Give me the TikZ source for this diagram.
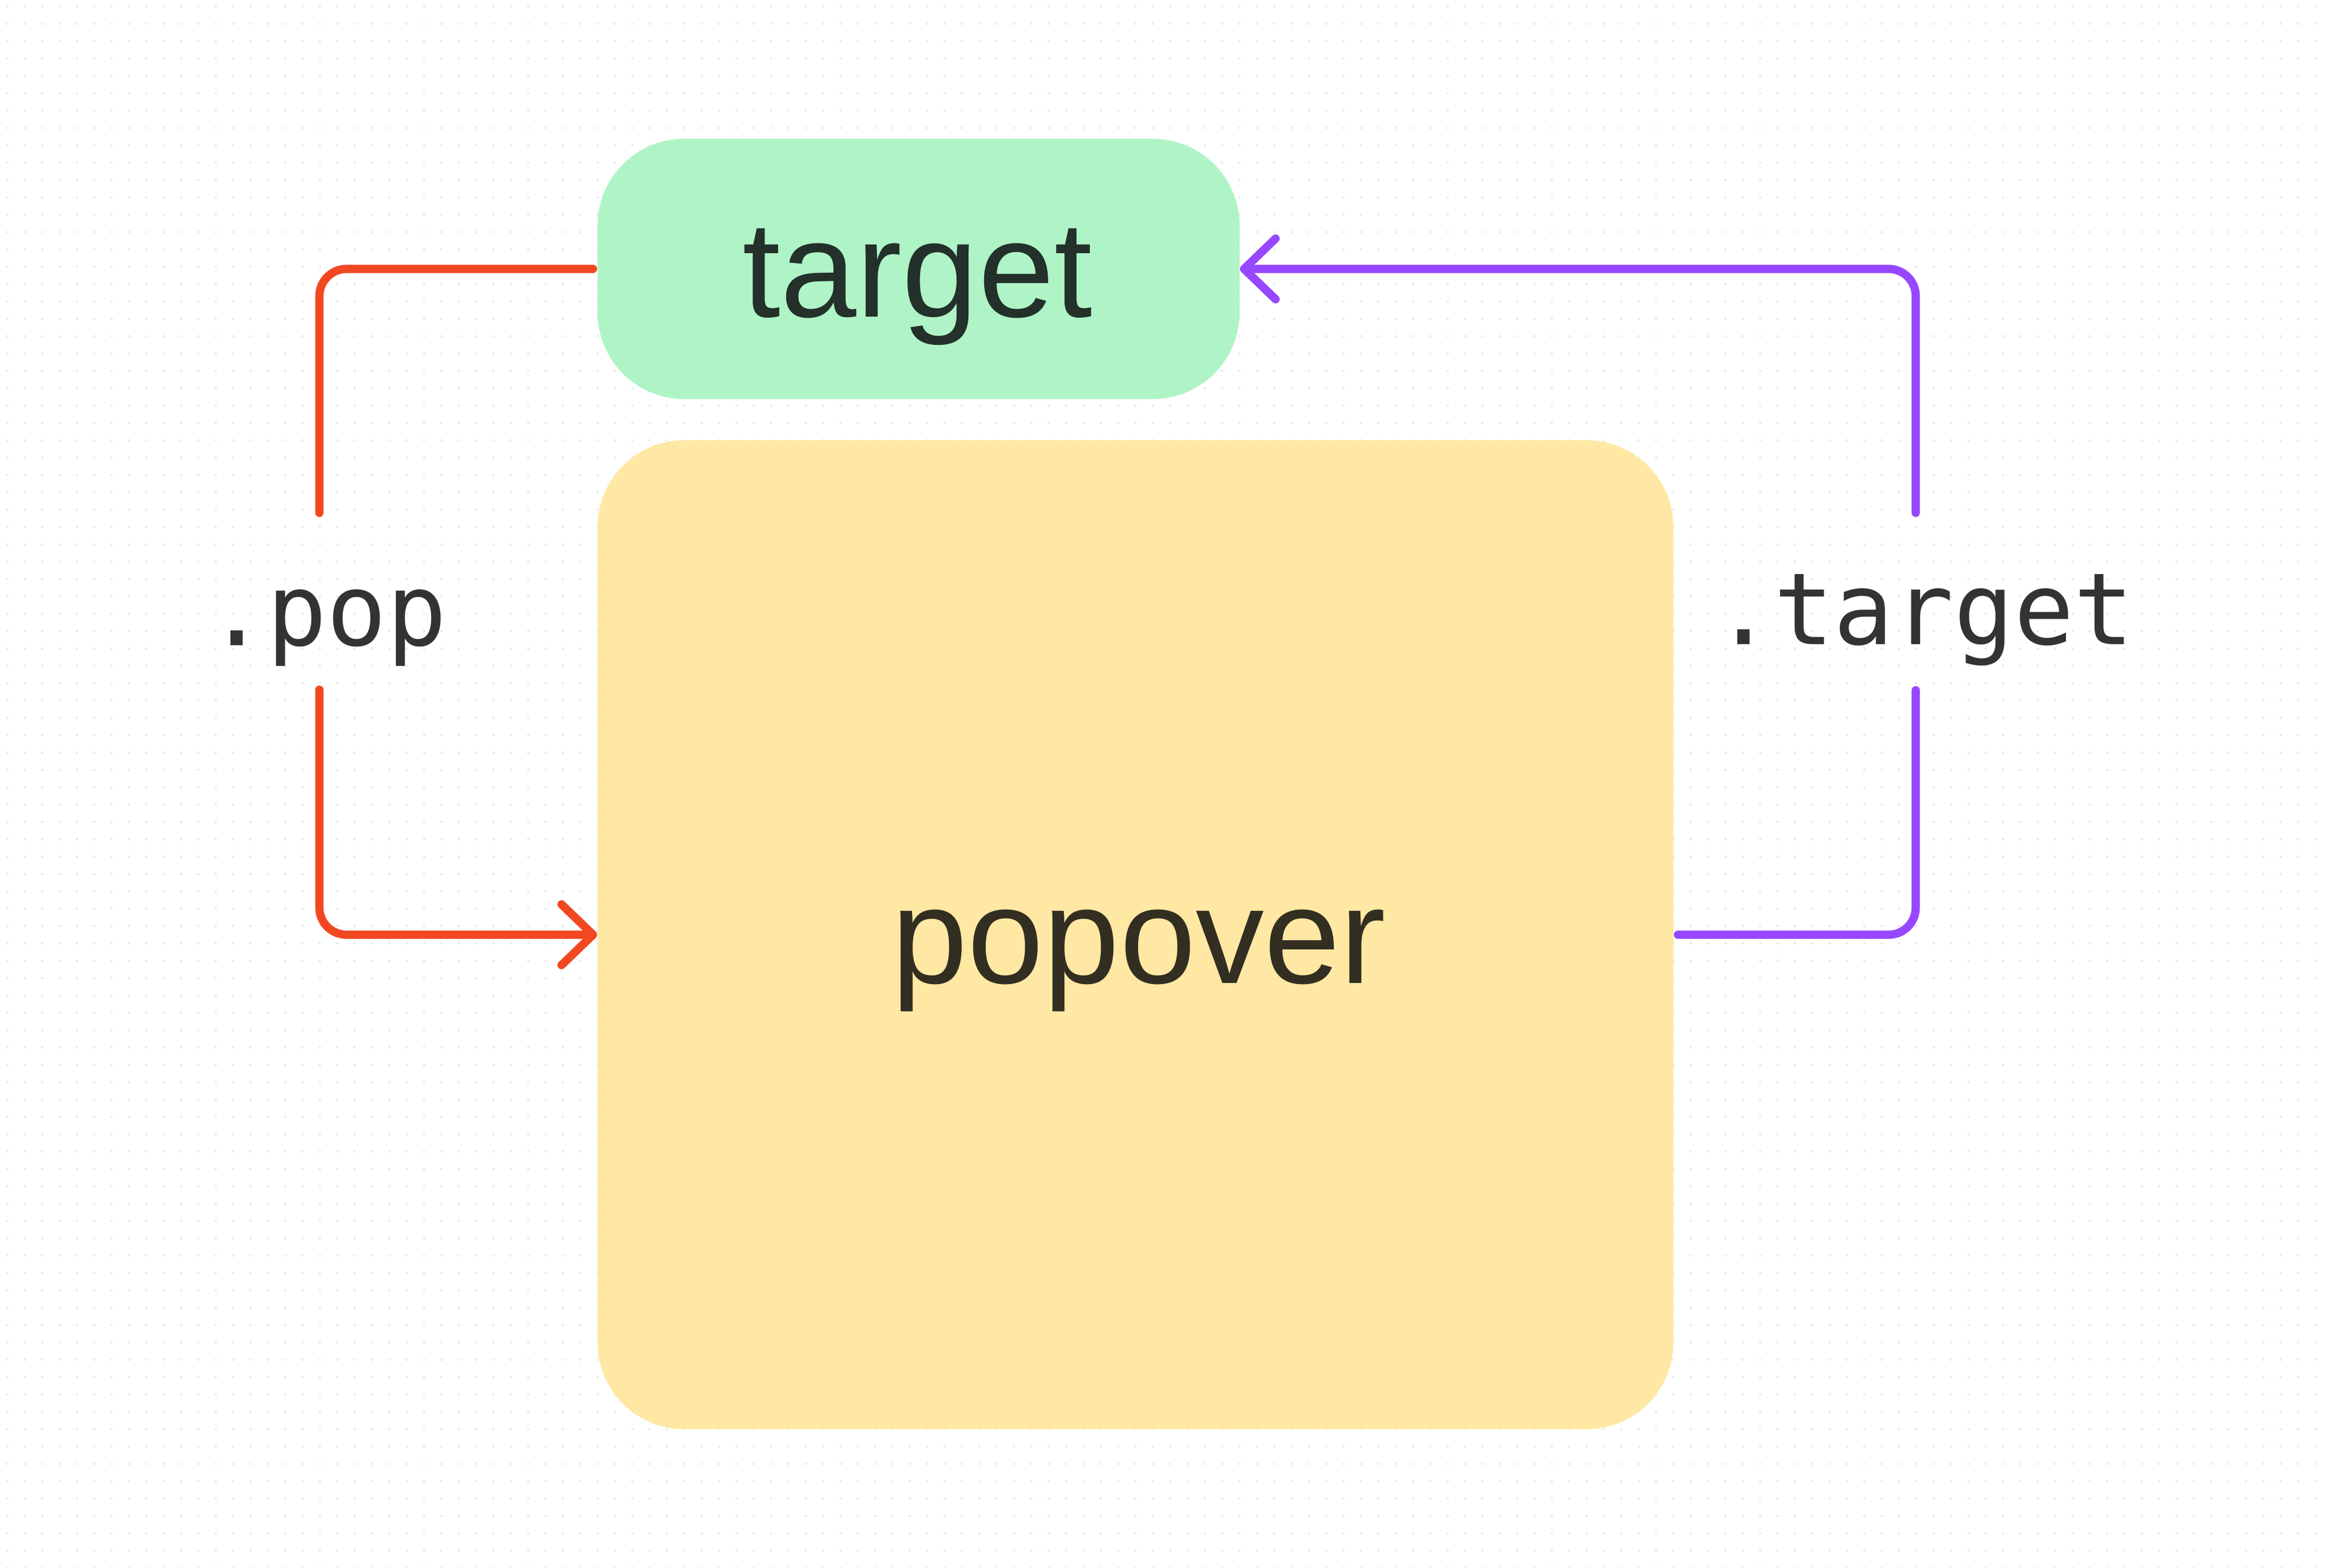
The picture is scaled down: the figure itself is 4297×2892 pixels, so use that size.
\documentclass[tikz,border=0pt]{standalone}
\usepackage{fontspec}
\usetikzlibrary{arrows.meta}
\newfontfamily\sansf{Liberation Sans}
\newfontfamily\monof{DejaVu Sans Mono}
\definecolor{redc}{HTML}{F24822}
\definecolor{purc}{HTML}{9747FF}
\definecolor{greenc}{HTML}{AFF4C6}
\definecolor{yellowc}{HTML}{FFE8A3}
\definecolor{dotc}{HTML}{E6E6E6}
\definecolor{tgtxt}{HTML}{24302A}
\definecolor{poptxt}{HTML}{332E22}
\definecolor{lbltxt}{HTML}{333333}
\tikzset{
  boxnode/.style={draw=none, rounded corners=40pt, inner sep=0pt},
  bigtext/.style={anchor=base, inner sep=0pt, font=\sansf\fontsize{63pt}{70pt}\selectfont},
  monotext/.style={anchor=base, inner sep=0pt, text=lbltxt, font=\monof\fontsize{46pt}{52pt}\selectfont},
  conn/.style={line width=3.8pt, line cap=round, line join=round, rounded corners=12.5pt},
  tiparrow/.style={-{Straight Barb[length=14.5pt, width=28pt, line cap=round, line join=round]}},
  dotrow/.style={dotc, line width=1pt, line cap=round, dash pattern=on 0pt off 8pt}
}
\begin{document}
\begin{tikzpicture}[x=0.25pt, y=-0.25pt]
  \fill[white] (0,0) rectangle (4297,2892);
  \useasboundingbox (0,0) rectangle (4297,2892);
  % dot grid
  \foreach \y in {12,44,...,2892} {
    \draw[dotrow] (14,\y) -- (4297,\y);
  }
  % boxes
  \node[boxnode, fill=greenc, minimum width=296pt, minimum height=120pt] (target) at (1694,496) {};
  \node[boxnode, fill=yellowc, minimum width=496pt, minimum height=456pt] (popover) at (2094,1724) {};
  % texts
  \node[bigtext, text=tgtxt] (targettxt) at (1692,584) {target};
  \node[bigtext, text=poptxt] (popovertxt) at (2100,1813) {popover};
  \node[monotext] (poplbl) at (603,1190) {.pop};
  \node[monotext] (targetlbl) at (3548,1188) {.target};
  % connector coordinates
  \coordinate (r1) at (589,946);
  \coordinate (r2) at (589,1272);
  \coordinate (p1) at (3533,1273);
  \coordinate (p2) at (3533,946);
  % red connector
  \draw[conn, redc, shorten <=1.9pt] (target.west) -| (r1);
  \draw[conn, redc, tiparrow] (r2) |- (popover.west);
  % purple connector
  \draw[conn, purc, shorten <=1.9pt] (popover.east) -| (p1);
  \draw[conn, purc, tiparrow] (p2) |- (target.east);
\end{tikzpicture}
\end{document}
